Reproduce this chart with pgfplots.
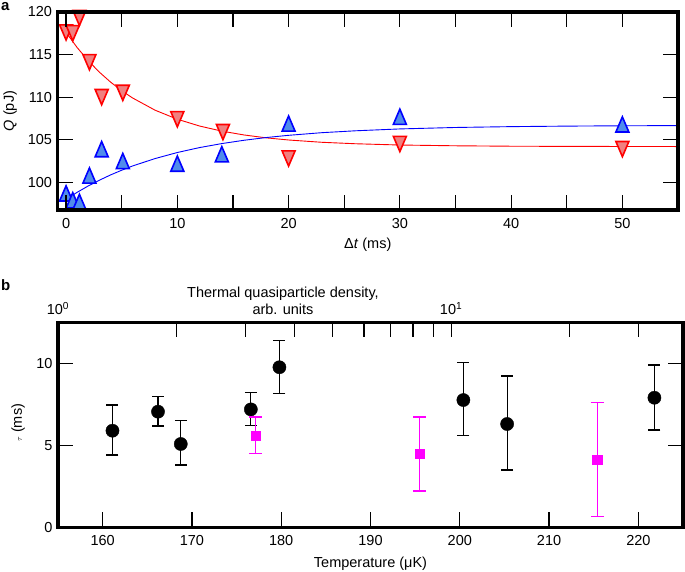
\documentclass[border=0pt]{standalone}
\usepackage{pgfplots}
\pgfplotsset{compat=1.18}
\usepackage{pgfplotstable}
\usepackage{fontspec}
\setmainfont{Liberation Sans}
\definecolor{redfill}{RGB}{240,128,128}
\definecolor{bluefill}{RGB}{80,140,235}
\definecolor{mag}{RGB}{255,0,255}
\pgfplotsset{
  every axis/.append style={font=\fontsize{14.5}{17}\selectfont},
  /pgf/number format/assume math mode=true,
}
\pgfplotstableread{
T tau ep em
161.1 5.89 1.57 1.48
166.2 7.05 0.95 0.87
168.75 5.08 1.42 1.28
176.6 7.19 1.02 0.99
179.8 9.76 1.62 1.59
200.4 7.76 2.28 2.17
205.3 6.30 2.93 2.81
221.8 7.90 2.00 1.97
}\blackdata
\pgfplotstableread{
T tau ep em
177.1 5.59 1.15 1.08
195.5 4.47 2.27 2.26
215.4 4.10 3.50 3.45
}\magdata
\begin{document}
\begin{tikzpicture}
\useasboundingbox (0,0) rectangle (685pt,-572pt);
\node[anchor=north west, inner sep=0pt, font=\fontsize{15}{17}\selectfont\bfseries] at (1pt,-2.5pt) {a};
\node[anchor=north west, inner sep=0pt, font=\fontsize{15}{17}\selectfont\bfseries] at (1pt,-279pt) {b};
% ---------------- panel a
\begin{axis}[
  at={(57.5pt,-210pt)}, anchor=south west,
  scale only axis, width=620.5pt, height=198pt,
  xmin=-0.77, xmax=55, ymin=96.75, ymax=120,
  xtick={0,10,...,50}, minor xtick={5,15,...,55},
  ytick={100,105,...,120},
  tick align=inside, major tick length=15pt, minor tick length=15pt,
  every tick/.style={black, line width=1.2pt},
  axis line style={line width=3.5pt},
  xticklabel style={anchor=north, yshift=-5pt},
  yticklabel style={anchor=east, xshift=-2pt},
  xlabel={Δ\textit{t} (ms)}, ylabel={\textit{Q} (pJ)},
  every axis x label/.style={at={(axis description cs:0.5,-0.177)}, anchor=center},
  every axis y label/.style={at={(axis description cs:-0.0765,0.5)}, rotate=90, anchor=center},
  clip mode=individual,
  axis on top,
]
\addplot[red, line width=0.9pt] coordinates {
(0,117.6) (1,115.82) (2,114.27) (3,112.93) (4,111.77) (5,110.76) (6,109.89)
(8,108.47) (10,107.41) (12,106.61) (14,106.01) (16,105.56) (18,105.22)
(20,104.97) (23,104.70) (26,104.53) (30,104.38) (35,104.29) (40,104.24)
(45,104.22) (50,104.21) (55,104.2)};
\addplot[blue, line width=0.9pt] coordinates {
(0.5,98.42) (1,98.83) (2,99.58) (3,100.25) (4,100.87) (5,101.42) (6,101.93)
(8,102.79) (10,103.50) (12,104.08) (14,104.55) (16,104.94) (18,105.26)
(20,105.52) (23,105.83) (26,106.05) (30,106.27) (35,106.44) (40,106.54)
(45,106.60) (50,106.64) (55,106.66)};
\addplot[only marks, mark=triangle*, mark size=7.5pt,
  mark options={rotate=180, yscale=1.35, fill=redfill, draw=red, line width=1.6pt}]
  coordinates {(0,117.9) (0.6,117.8) (1.2,119.6) (2.1,114.4) (3.2,110.3) (5.1,110.8)
  (10,107.7) (14.1,106.2) (20,103.1) (30,104.8) (50,104.2)};
\addplot[only marks, mark=triangle*, mark size=7.5pt,
  mark options={yscale=1.35, fill=bluefill, draw=blue, line width=1.6pt}]
  coordinates {(0,98.4) (0.6,97.6) (1.2,97.4) (2.1,100.5) (3.2,103.6) (5.1,102.2)
  (10,101.9) (14,103.0) (20,106.6) (30,107.4) (50,106.5)};
\end{axis}
% ---------------- panel b
\begin{axis}[
  at={(58pt,-527.3pt)}, anchor=south west,
  scale only axis, width=625pt, height=205pt,
  xmin=155, xmax=225, ymin=0, ymax=12.5,
  xtick={160,170,...,220}, ytick={0,5,10},
  xtick pos=lower,
  tick align=inside, major tick length=15pt,
  every tick/.style={black, line width=1.2pt},
  axis line style={line width=3.5pt},
  xticklabel style={anchor=north, yshift=-5pt},
  yticklabel style={anchor=east, xshift=-2pt},
  xlabel={Temperature (μK)}, ylabel={{\fontsize{8}{9}\selectfont$\tau$} (ms)},
  every axis x label/.style={at={(axis description cs:0.5,-0.176)}, anchor=center},
  every axis y label/.style={at={(axis description cs:-0.064,0.51)}, rotate=90, anchor=center},
  clip mode=individual,
  axis on top,
]
\addplot[only marks, mark=*, mark size=6.6pt, black,
  error bars/.cd, y dir=both, y explicit,
  error bar style={line width=1.2pt, black},
  error mark options={rotate=90, mark size=6pt, line width=1.2pt, black}]
  table[x=T, y=tau, y error plus=ep, y error minus=em] {\blackdata};
\addplot[only marks, mark=square*, mark size=4.6pt, mag,
  error bars/.cd, y dir=both, y explicit,
  error bar style={line width=1.5pt, mag},
  error mark options={rotate=90, mark size=6.3pt, line width=1.5pt, mag}]
  table[x=T, y=tau, y error plus=ep, y error minus=em] {\magdata};
\end{axis}
\begin{axis}[
  at={(58pt,-527.3pt)}, anchor=south west,
  scale only axis, width=625pt, height=205pt,
  xmode=log, xmin=1, xmax=38.9, ymin=0, ymax=12.5,
  axis x line*=top, hide y axis,
  x axis line style={draw=none},
  xtick={1,10}, xticklabels={10\textsuperscript{0},10\textsuperscript{1}},
  minor xtick={2,3,4,5,6,7,8,9,20,30},
  tick align=inside, major tick length=15pt, minor tick length=15pt,
  every tick/.style={black, line width=1.2pt},
  xticklabel style={anchor=south, yshift=4pt},
]
\end{axis}
\node[align=center, font=\fontsize{14.5}{16.6}\selectfont] at (283pt,-301pt) {Thermal quasiparticle density,\\arb. units};
\end{tikzpicture}
\end{document}
